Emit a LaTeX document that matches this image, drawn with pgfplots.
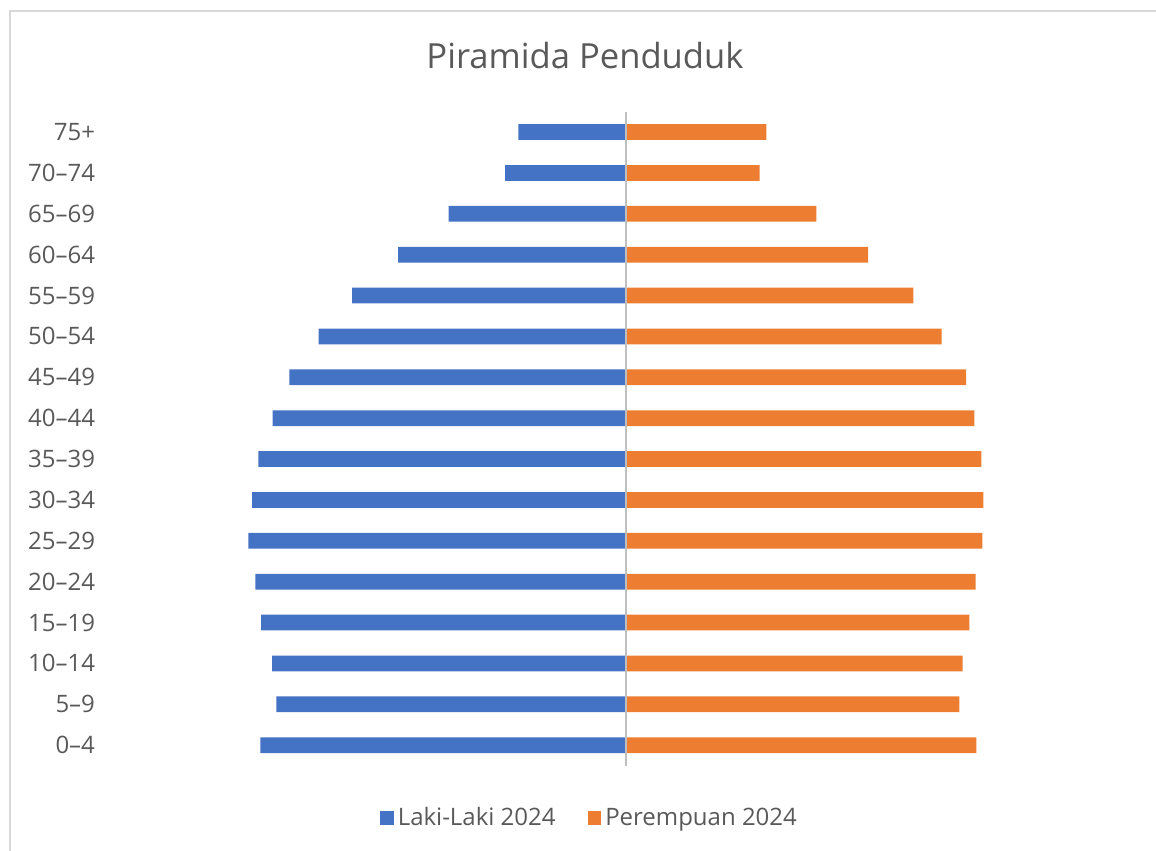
\documentclass[border=0pt]{standalone}
\usepackage{pgfplots}
\pgfplotsset{compat=1.18}
\usepackage{fontspec}
\setmainfont{Open Sans}
\definecolor{cblue}{HTML}{4472C4}
\definecolor{corange}{HTML}{ED7D31}
\definecolor{ctext}{HTML}{595959}
\definecolor{cborder}{HTML}{D9D9D9}
\definecolor{caxis}{HTML}{BFBFBF}
\begin{document}
\begin{tikzpicture}
\path[use as bounding box] (0,0) rectangle (578bp,425.5bp);
\draw[cborder, line width=1bp] (4.75bp,0) -- (4.75bp,419.75bp) -- (578bp,419.75bp);
\node[text=ctext, font=\fontsize{17.3bp}{20bp}\selectfont] at (292.5bp,397.5bp) {Piramida Penduduk};
\begin{axis}[
  at={(55bp,42.7bp)}, anchor=south west,
  scale only axis, width=516bp, height=327bp,
  xmin=-516, xmax=516, ymin=-0.5, ymax=15.5,
  xbar, bar width=7.85bp, bar shift=0pt,
  axis line style={draw=none},
  xtick=\empty,
  ytick={0,...,15},
  yticklabels={0\textendash4,5\textendash9,10\textendash14,15\textendash19,20\textendash24,25\textendash29,30\textendash34,35\textendash39,40\textendash44,45\textendash49,50\textendash54,55\textendash59,60\textendash64,65\textendash69,70\textendash74,75+},
  major tick length=0pt,
  yticklabel style={text=ctext, font=\fontsize{12bp}{14bp}\selectfont, xshift=-4bp},
  legend columns=2,
  legend style={at={(rel axis cs:0.4656,-0.0801)}, anchor=center, draw=none, fill=none,
    font=\fontsize{12bp}{14bp}\selectfont, text=ctext,
    /tikz/every even column/.append style={column sep=14bp}},
  legend image code/.code={\fill[#1] (0bp,-3.4bp) rectangle (6.85bp,3.4bp);},
]
\addplot[fill=cblue, draw=none] coordinates {
(-365.7,0) (-349.7,1) (-354,2) (-365,3) (-370.7,4) (-377.7,5) (-374,6) (-367.7,7)
(-353.3,8) (-336.7,9) (-307.3,10) (-274,11) (-228,12) (-177.3,13) (-121,14) (-107.7,15)};
\addlegendentry{Laki-Laki 2024}
\addplot[fill=corange, draw=none] coordinates {
(350.3,0) (333.3,1) (336.7,2) (343.3,3) (349.7,4) (356.3,5) (357.3,6) (355.3,7)
(348.3,8) (340,9) (315.7,10) (287.3,11) (242,12) (190.3,13) (133.7,14) (140.3,15)};
\addlegendentry{Perempuan 2024}
\draw[caxis, line width=0.6bp] (axis cs:0,-0.5) -- (axis cs:0,15.5);
\end{axis}
\end{tikzpicture}
\end{document}
